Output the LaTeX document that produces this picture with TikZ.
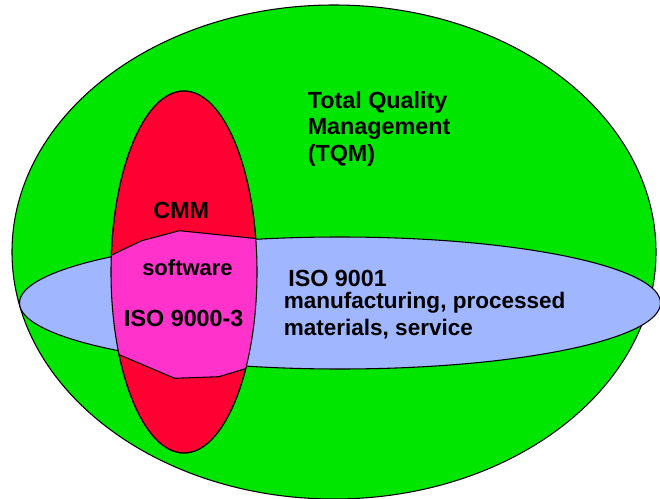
\documentclass[tikz,border=0pt]{standalone}
\usepackage{fontspec}
\setmainfont{Liberation Sans}
\definecolor{tqmgreen}{RGB}{0,230,0}
\definecolor{cmmred}{RGB}{255,0,51}
\definecolor{isoblue}{RGB}{160,182,255}
\definecolor{swpink}{RGB}{255,51,204}
\tikzset{
  region/.style={draw=black,line width=0.8pt},
  lbl/.style={inner sep=0pt,font=\bfseries\fontsize{17.5}{21}\selectfont},
  lblmid/.style={inner sep=0pt,font=\bfseries\fontsize{16.9}{20}\selectfont},
  lblsmall/.style={inner sep=0pt,font=\bfseries\fontsize{16.5}{20}\selectfont}
}
\begin{document}
\begin{tikzpicture}[x=0.75pt,y=-0.75pt]
  \useasboundingbox (0,0) rectangle (660,499);
  % Total Quality Management: the outer set
  \path[region,fill=tqmgreen] (334,252) ellipse [x radius=322,y radius=247];
  % CMM
  \path[region,fill=cmmred] (184,272) ellipse [x radius=73,y radius=181];
  % ISO 9001
  \path[region,fill=isoblue] (340,303) ellipse [x radius=320.5,y radius=66];
  % Overlap of CMM and ISO 9001: software / ISO 9000-3
  \begin{scope}
    \clip (184,272) ellipse [x radius=73,y radius=181];
    \path[region,fill=swpink] (95,263) -- (141.7,240.7) -- (179.3,230.7)
      -- (280,241) -- (275,359.8) -- (218.9,376.7) -- (174.7,378.3)
      -- (95,344.4) -- cycle;
  \end{scope}
  \draw[line width=0.8pt] (184,272) ellipse [x radius=73,y radius=181];

  % Labels
  \node[lbl,anchor=base west] (tqm1) at (307.5,108.3) {Total Quality};
  \node[lbl,anchor=base west] (tqm2) at (307.5,135) {Management};
  \node[lbl,anchor=base west] (tqm3) at (307.5,161.7) {(TQM)};
  \node[lbl,anchor=base] (cmm) at (181.3,218.3) {CMM};
  \node[lblsmall,anchor=base] (sw) at (187.5,275) {software};
  \node[lbl,anchor=base] (iso3) at (183.8,326.7) {ISO 9000-3};
  \node[lbl,anchor=base west] (iso1) at (288,286) {ISO 9001};
  \node[lblmid,anchor=base west] (mfg1) at (283.5,308) {manufacturing, processed};
  \node[lblmid,anchor=base west] (mfg2) at (283.5,335) {materials, service};
\end{tikzpicture}
\end{document}
